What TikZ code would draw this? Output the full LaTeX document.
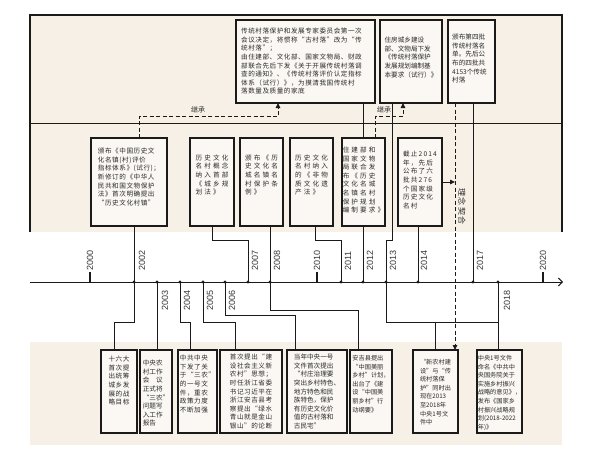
\documentclass[tikz,border=0pt]{standalone}
\usepackage{fontspec}
\setmainfont{Liberation Sans}
\newfontfamily\cjk{Noto Sans CJK SC}
\newfontfamily\cjka{Noto Sans CJK SC}[LetterSpace=8]
\newfontfamily\cjkb{Noto Sans CJK SC}[LetterSpace=18]
\newfontfamily\cjkc{Noto Sans CJK SC}[LetterSpace=32]
\usetikzlibrary{arrows.meta}
\definecolor{panel}{HTML}{F6F0E7}
\definecolor{boxfill}{HTML}{FBF8F3}
\definecolor{ink}{HTML}{1A1A1A}
\definecolor{txtc}{HTML}{2A2A2A}
\tikzset{
  box/.style={draw=ink, line width=1.1pt, fill=boxfill, inner sep=0pt, outer sep=0pt, anchor=north west},
  t0/.style={font=\cjk\fontsize{6.6}{8.6}\selectfont, align=left, inner sep=0pt, text=txtc},
  ts/.style={font=\cjk\fontsize{6.2}{8.6}\selectfont, align=left, inner sep=0pt, text=txtc},
  ta/.style={font=\cjka\fontsize{6.6}{8.6}\selectfont, align=left, inner sep=0pt, text=txtc},
  tb/.style={font=\cjkb\fontsize{6.6}{8.6}\selectfont, align=left, inner sep=0pt, text=txtc},
  tc/.style={font=\cjkc\fontsize{6.6}{8.6}\selectfont, align=left, inner sep=0pt, text=txtc},
  yr/.style={font=\fontsize{9}{10}\selectfont, text=black!78, inner sep=0pt},
  lab/.style={font=\cjk\fontsize{7}{8}\selectfont, inner sep=0pt, text=txtc},
  conn/.style={draw=ink, line width=0.6pt},
  dashline/.style={draw=ink, line width=1pt, dash pattern=on 4pt off 2.5pt},
  tip/.style={-{Triangle[length=5pt,width=4.5pt]}},
}
\begin{document}
\begin{tikzpicture}[x=1pt,y=-1pt]
\useasboundingbox (0,0) rectangle (600,450);
\fill[white] (0,0) rectangle (600,450);
% panels
\fill[panel] (30,15) rectangle (562,232);
\fill[panel] (30,342) rectangle (562,445);
\draw[ink, line width=1.2pt] (30,232) -- (30,15) -- (562,15) -- (562,232);
\draw[ink, line width=0.8pt] (30,123) -- (562,123);

% year coordinates
\foreach \yy/\xx in {2000/90,2002/134,2003/157,2004/180,2005/203,2006/225,2007/248,2008/270,2010/317,2011/341,2012/363,2013/386,2014/418,2017/473,2018/498,2020/543}
  \coordinate (y\yy) at (\xx,282);
\coordinate (ax0) at (30,282);
\coordinate (ax1) at (563,282);

% boxes: top
\node[box, minimum width=139, minimum height=83] (t1) at (236,20) {};
\node[box, minimum width=62, minimum height=83] (t2) at (380,20) {};
\node[box, minimum width=47, minimum height=83] (t3) at (448,20) {};
% boxes: middle
\node[box, minimum width=76, minimum height=88] (m1) at (91,138) {};
\node[box, minimum width=44, minimum height=88] (m2) at (190,138) {};
\node[box, minimum width=43, minimum height=88] (m3) at (240,138) {};
\node[box, minimum width=43, minimum height=88] (m4) at (290,138) {};
\node[box, minimum width=43, minimum height=88] (m5) at (342,138) {};
\node[box, minimum width=44, minimum height=88] (m6) at (398,138) {};
% boxes: bottom
\node[box, minimum width=36, minimum height=83] (b1) at (101,350) {};
\node[box, minimum width=32, minimum height=83] (b2) at (140,350) {};
\node[box, minimum width=39, minimum height=83] (b3) at (178,350) {};
\node[box, minimum width=62, minimum height=83] (b4) at (220,350) {};
\node[box, minimum width=60, minimum height=83] (b5) at (287,350) {};
\node[box, minimum width=42, minimum height=83] (b6) at (350,350) {};
\node[box, minimum width=45, minimum height=83] (b7) at (413,350) {};
\node[box, minimum width=45, minimum height=83] (b8) at (477,350) {};

\coordinate (d0) at ([xshift=-16.5pt]t3.south);

% connectors
\draw[conn] (y2012) -- (y2012 |- t1.south);
\draw[conn] (y2002) -- (y2002 |- m1.south);
\draw[conn] (y2007) -- ++(0,-42) -| (m2.south);
\draw[conn] (y2008) -- (y2008 |- m3.south);
\draw[conn] (y2011) -- ++(0,-42) -| ([xshift=4pt]m4.south);
\draw[conn] (y2013) -- ++(0,-42) -| ([xshift=-19pt]t2.south);
\draw[conn] (y2014) -- (y2014 |- m6.south);
\draw[conn] (y2017) -- (y2017 |- t3.south);
\draw[conn] (y2002) -- ++(0,40) -| ([xshift=-5pt]b1.north);
\draw[conn] (y2003) -- (y2003 |- b2.north);
\draw[conn] (y2004) -- ++(0,40) -| ([xshift=-7pt]b3.north);
\draw[conn] (y2005) -- ++(0,40) -| ([xshift=-16pt]b4.north);
\draw[conn] (y2006) -- ++(0,33) -| ([xshift=-22pt]b5.north);
\draw[conn] (y2008) -- ++(0,28) -| ([xshift=-13pt]b6.north);
\draw[conn] (y2013) -- ++(0,40) coordinate (c13) -- (c13 -| y2018);
\draw[conn] (y2018) -- (y2018 |- b8.north);
\draw[conn] (c13 -| b7.north) -- (b7.north);

% middle box 5 drawn again over the 2012 line
\node[box, minimum width=43, minimum height=88] (m5b) at (342,138) {};

% axis
\draw[ink, line width=1pt, -{Straight Barb[length=4pt,width=8pt]}] (ax0) -- (ax1);
\foreach \yy in {2000,2010,2020} \draw[ink, line width=1.5pt] (y\yy) -- ++(0,-10);
\foreach \yy in {2002,2003,2004,2005,2006,2007,2008,2011,2012,2013,2014,2017,2018} \fill[ink] (y\yy) circle (1.6pt);
\foreach \yy/\dx in {2000/0,2002/8,2007/7,2008/7,2010/0,2011/7,2012/7,2013/7,2014/6,2017/7,2020/0}
  \node[yr, rotate=90, anchor=west] (l\yy) at ([shift={(\dx pt,11pt)}]y\yy) {\yy};
\foreach \yy/\dx in {2003/8,2004/7,2005/7,2006/7,2018/9}
  \node[yr, rotate=90, anchor=east] (l\yy) at ([shift={(\dx pt,-8pt)}]y\yy) {\yy};

% dashed inheritance links
\draw[dashline, tip] ([xshift=10pt]m1.north) -- ++(0,-22) -| ([xshift=-27.5pt]t1.south);
\draw[dashline, tip] ([xshift=11.5pt]m5.north) -- ++(0,-22) -| ([xshift=-8pt]t2.south);
\node[lab] (jc1) at (198,110) {继承};
\node[lab] (jc2) at (384,110) {继承};
\draw[dashline, tip] (d0) -- (d0 |- b7.north);
\draw[conn, line width=0.8pt, tip] (m6.east) -- (m6.east -| d0);
\node[font=\cjkb\fontsize{8}{9}\selectfont, inner sep=0pt, text=txtc, rotate=-90, anchor=west] (lnqh) at (462,188) {理念契合};

% texts top
\node[ta, anchor=north west] (t1x) at (241,28) {传统村落保护和发展专家委员会第一次\\会议决定，将惯称“古村落”改为“传\\统村落”；\\由住建部、文化部、国家文物局、财政\\部联合先后下发《关于开展传统村落调\\查的通知》、《传统村落评价认定指标\\体系（试行）》，为摸清我国传统村\\落数量及质量的家底};
\node[t0] (t2x) at ([yshift=4pt]t2.center) {住房城乡建设\\部、文物局下发\\《传统村落保护\\发展规划编制基\\本要求（试行）》};
\node[t0, anchor=north west] (t3x) at (452,34) {颁布第四批\\传统村落名\\单。先后公\\布的四批共\\4153个传统\\村落};
% texts middle
\node[ta] (m1x) at ([yshift=5pt]m1.center) {颁布《中国历史文\\化名镇(村)评价\\指标体系》(试行)；\\新修订的《中华人\\民共和国文物保护\\法》首次明确提出\\“历史文化村镇”};
\node[tc] (m2x) at ([yshift=7pt]m2.center) {历史文化\\名村概念\\纳入首部\\《城乡规\\划法》};
\node[tc] (m3x) at ([yshift=7pt]m3.center) {颁布《历\\史文化名\\城名镇名\\村保护条\\例》};
\node[tc] (m4x) at ([yshift=7pt]m4.center) {历史文化\\名村纳入\\的《非物\\质文化遗\\产法》};
\node[tc] (m5x) at ([yshift=2pt]m5b.center) {住建部和\\国家文物\\局联合发\\布《历史\\文化名城\\名镇名村\\保护规划\\编制要求》};
\node[tb] (m6x) at ([yshift=2pt]m6.center) {截止2014\\年，先后\\公布了六\\批共276\\个国家级\\历史文化\\名村};
% texts bottom
\node[ta, anchor=north] (b1x) at ([yshift=-6pt]b1.north) {十六大\\首次提\\出统筹\\城乡发\\展的战\\略目标};
\node[t0, anchor=north] (b2x) at ([yshift=-10pt]b2.north) {中央农\\村工作\\会　议\\正式将\\“三农”\\问题写\\入工作\\报告};
\node[ta, anchor=north] (b3x) at ([yshift=-5pt]b3.north) {中共中央\\下发了关\\于“三农”\\的一号文\\件，重农\\政策力度\\不断加强};
\node[ta, anchor=north] (b4x) at ([yshift=-4pt]b4.north) {首次提出“建\\设社会主义新\\农村”思想；\\时任浙江省委\\书记习近平在\\浙江安吉县考\\察提出“绿水\\青山就是金山\\银山”的论断};
\node[t0, anchor=north] (b5x) at ([yshift=-4pt]b5.north) {当年中央一号\\文件首次提出\\“村庄治理要\\突出乡村特色、\\地方特色和民\\族特色，保护\\有历史文化价\\值的古村落和\\古民宅”};
\node[ts, anchor=north] (b6x) at ([yshift=-5pt]b6.north) {安吉县提出\\“中国美丽\\乡村”计划，\\出台了《建\\设“中国美\\丽乡村”行\\动纲要》};
\node[ts, anchor=north] (b7x) at ([yshift=-9pt]b7.north) {“新农村建\\设”与“传\\统村落保\\护”同时出\\现在2013\\至2018年\\中央1号文\\件中};
\node[ts, anchor=north] (b8x) at ([yshift=-5pt]b8.north) {中央1号文件\\命名《中共中\\央国务院关于\\实施乡村振兴\\战略的意见》，\\发布《国家乡\\村振兴战略规\\划(2018-2022\\年)》};
\end{tikzpicture}
\end{document}
